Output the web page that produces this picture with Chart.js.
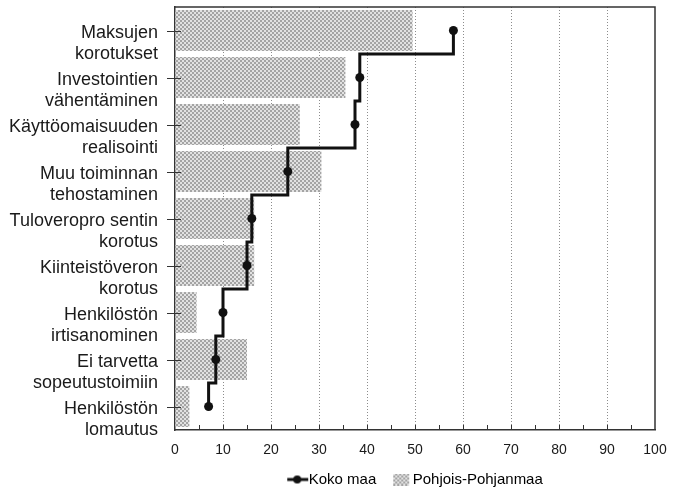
<!DOCTYPE html>
<html lang="fi">
<head>
<meta charset="utf-8">
<title>Sopeutustoimet</title>
<script src="https://cdn.jsdelivr.net/npm/chart.js@4.4.1/dist/chart.umd.min.js"></script>
<style>
  html, body { margin: 0; padding: 0; background: #fff; }
  #wrap { position: relative; width: 679px; height: 497px; }
</style>
</head>
<body>
<div id="wrap"><canvas id="chart-sopeutus"></canvas></div>
<script>
// Toimenpiteet (kaksiriviset nimiöt)
const kategoriat = [
  ["Maksujen", "korotukset"],
  ["Investointien", "vähentäminen"],
  ["Käyttöomaisuuden", "realisointi"],
  ["Muu toiminnan", "tehostaminen"],
  ["Tuloveropro sentin", "korotus"],
  ["Kiinteistöveron", "korotus"],
  ["Henkilöstön", "irtisanominen"],
  ["Ei tarvetta", "sopeutustoimiin"],
  ["Henkilöstön", "lomautus"],
];

// Osuudet, %
const pohjoisPohjanmaa = [49.5, 35.5, 26, 30.5, 16.5, 16.5, 4.5, 15, 3];
const kokoMaa = [58, 38.5, 37.5, 23.5, 16, 15, 10, 8.5, 7];

const xTicks = [0, 10, 20, 30, 40, 50, 60, 70, 80, 90, 100];

Chart.defaults.font.family = "'Liberation Sans', Arial, sans-serif";
Chart.defaults.color = "#1a1a1a";

// Rasterikuvio pylväille
function teeKuvio() {
  const c = document.createElement("canvas");
  c.width = 4;
  c.height = 4;
  const g = c.getContext("2d");
  g.fillStyle = "#e2e2e2";
  g.fillRect(0, 0, 4, 4);
  g.fillStyle = "#a4a4a4";
  g.fillRect(0, 0, 2, 2);
  g.fillRect(2, 2, 2, 2);
  return g.createPattern(c, "repeat");
}
const kuvio = teeKuvio();

// Selitteen symbolit (vasen osa läpinäkyvä, jotta symboli osuu tekstin viereen)
function kokoSymboli() {
  const c = document.createElement("canvas");
  c.width = 30;
  c.height = 12;
  const g = c.getContext("2d");
  g.strokeStyle = "#111";
  g.lineWidth = 3;
  g.beginPath();
  g.moveTo(8, 6);
  g.lineTo(29, 6);
  g.stroke();
  g.fillStyle = "#111";
  g.beginPath();
  g.arc(18, 6, 4, 0, Math.PI * 2);
  g.fill();
  return c;
}
function kuvioSymboli() {
  const c = document.createElement("canvas");
  c.width = 30;
  c.height = 12;
  const g = c.getContext("2d");
  g.fillStyle = teeKuvio();
  g.fillRect(10, 0, 16, 12);
  return c;
}

// Pylväät: y = toimenpiteen järjestysnumero
const pylvaat = pohjoisPohjanmaa.map((v, i) => ({ x: v, y: i }));

// Porrasviiva: varsinaiset pisteet toimenpiteiden kohdalla,
// väliin taitepiste toimenpiteiden rajalle
const porrasviiva = [];
kokoMaa.forEach((v, i) => {
  porrasviiva.push({ x: v, y: i, piste: true });
  if (i < kokoMaa.length - 1) {
    porrasviiva.push({ x: kokoMaa[i + 1], y: i + 0.5, piste: false });
  }
});

// Kehys sekä akseleiden pienet merkit
const kehysJaMerkit = {
  id: "kehysJaMerkit",
  afterDraw(chart) {
    const { ctx, chartArea: a, scales } = chart;
    ctx.save();
    ctx.strokeStyle = "#333";
    ctx.lineWidth = 1.5;
    ctx.beginPath();
    ctx.moveTo(a.left, a.top);
    ctx.lineTo(a.right, a.top);
    ctx.lineTo(a.right, a.bottom);
    ctx.stroke();

    ctx.lineWidth = 1;
    ctx.beginPath();
    for (let v = 5; v < 100; v += 5) {
      const px = Math.round(scales.x.getPixelForValue(v)) + 0.5;
      ctx.moveTo(px, a.bottom);
      ctx.lineTo(px, a.bottom - 5);
    }
    kategoriat.forEach((_, i) => {
      const py = Math.round(scales.y.getPixelForValue(i)) + 0.5;
      ctx.moveTo(a.left - 8, py);
      ctx.lineTo(a.left + 6, py);
    });
    ctx.stroke();
    ctx.restore();
  },
};

const ctx = document.querySelector("#chart-sopeutus");
const chart = new Chart(ctx, {
  type: "bar",
  data: {
    datasets: [
      {
        type: "line",
        label: "Koko maa",
        data: porrasviiva,
        stepped: "after",
        borderColor: "#111",
        borderWidth: 3,
        pointRadius: (c) => (c.raw && c.raw.piste ? 4.5 : 0),
        pointBackgroundColor: "#111",
        pointBorderWidth: 0,
        order: 0,
      },
      {
        type: "bar",
        label: "Pohjois-Pohjanmaa",
        data: pylvaat,
        backgroundColor: kuvio,
        borderWidth: 0,
        categoryPercentage: 0.87,
        barPercentage: 1,
        order: 1,
      },
    ],
  },
  options: {
    indexAxis: "y",
    responsive: true,
    maintainAspectRatio: false,
    animation: false,
    events: [],
    layout: { padding: { top: 7, right: 24, left: 0, bottom: 0 } },
    scales: {
      x: {
        type: "linear",
        position: "bottom",
        min: 0,
        max: 100,
        afterBuildTicks(scale) {
          scale.ticks = xTicks.map((v) => ({ value: v }));
        },
        grid: {
          color: (c) =>
            c.tick && c.tick.value > 0 && c.tick.value < 100 ? "#8c8c8c" : "rgba(0,0,0,0)",
          lineWidth: 1,
          drawTicks: false,
        },
        border: { display: true, color: "#333", width: 1.5, dash: [1, 2] },
        ticks: {
          font: { size: 14 },
          color: "#1a1a1a",
          padding: 12,
          maxRotation: 0,
          autoSkip: false,
        },
        afterFit(scale) {
          scale.height = 27;
          scale.paddingLeft = 0;
          scale.paddingRight = 0;
        },
      },
      y: {
        type: "linear",
        position: "left",
        offset: false,
        min: -0.5,
        max: 8.5,
        reverse: true,
        afterBuildTicks(scale) {
          scale.ticks = kategoriat.map((_, i) => ({ value: i }));
        },
        grid: { display: false, drawTicks: false },
        border: { display: true, color: "#333", width: 1.5 },
        ticks: {
          callback: (v) => kategoriat[v],
          font: { size: 18 },
          color: "#1a1a1a",
          padding: 17,
          labelOffset: 13,
          autoSkip: false,
        },
        afterFit(scale) {
          scale.width = 175;
          scale.paddingTop = 0;
          scale.paddingBottom = 0;
        },
      },
    },
    plugins: {
      tooltip: { enabled: false },
      legend: {
        position: "bottom",
        fullSize: false,
        labels: {
          usePointStyle: true,
          pointStyleWidth: 14,
          boxHeight: 12,
          padding: 15,
          color: "#1a1a1a",
          font: { size: 15 },
          generateLabels: () => [
            { text: "Koko maa", pointStyle: kokoSymboli(), datasetIndex: 0, lineWidth: 0 },
            { text: "Pohjois-Pohjanmaa", pointStyle: kuvioSymboli(), datasetIndex: 1, lineWidth: 0 },
          ],
        },
      },
    },
  },
  plugins: [kehysJaMerkit],
});
</script>
</body>
</html>
